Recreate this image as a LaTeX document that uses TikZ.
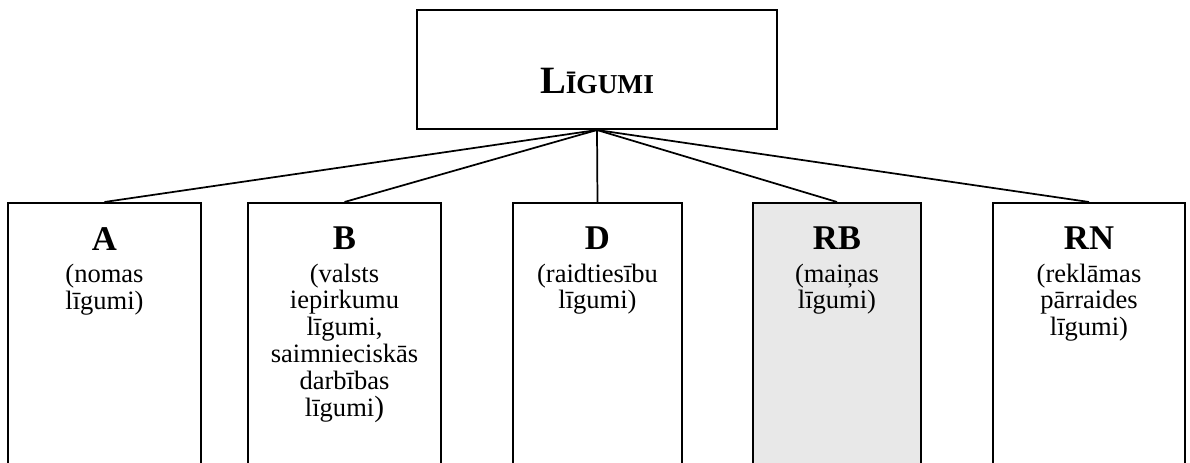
\documentclass[tikz,border=0pt]{standalone}
\usepackage{fontspec}
\setmainfont{Liberation Serif}
\begin{document}
\begin{tikzpicture}[x=0.75pt,y=-0.75pt,
  topbox/.style={draw,line width=1.5pt,minimum width=270pt,minimum height=89.25pt,inner sep=0pt},
  catbox/.style={draw,line width=1.5pt,anchor=north,minimum height=210pt,inner sep=0pt},
  cattext/.style={anchor=north,align=center,inner sep=0pt,font=\fontsize{19.9}{20.1}\selectfont},
  link/.style={line width=1.3pt}]
\useasboundingbox (0,0) rectangle (1190,463);
\clip (0,0) rectangle (1190,463);
\fill[white] (0,0) rectangle (1190,463);
% top
\node[topbox] (top) at (597,69.5) {};
\node[anchor=base,inner sep=0pt] (toptext) at (597,94) {\bfseries\fontsize{29}{29}\selectfont L{\fontsize{20.5}{20}\selectfont ĪGUMI}};
% boxes
\node[catbox,minimum width=144.75pt] (A) at (104.5,202) {};
\node[catbox,minimum width=144.75pt] (B) at (344.5,202) {};
\node[catbox,minimum width=126.75pt] (D) at (597.5,202) {};
\node[catbox,minimum width=126pt,fill=black!9] (RB) at (837,202) {};
\node[catbox,minimum width=144pt] (RN) at (1089,202) {};
% texts
\node[cattext] (Atext) at (104.5,227) {{\bfseries\fontsize{26}{24}\selectfont A}\\[4pt](nomas\\līgumi)};
\node[cattext] (Btext) at (344.5,227) {{\bfseries\fontsize{26}{24}\selectfont B}\\[4pt](valsts\\iepirkumu\\līgumi,\\saimnieciskās\\darbības\\līgumi{\fontsize{22}{20}\selectfont)}};
\node[cattext] (Dtext) at (597.5,227) {{\bfseries\fontsize{26}{24}\selectfont D}\\[4pt](raidtiesību\\līgumi)};
\node[cattext] (RBtext) at (837,227) {{\bfseries\fontsize{26}{24}\selectfont RB}\\[4pt](maiņas\\līgumi)};
\node[cattext] (RNtext) at (1089,227) {{\bfseries\fontsize{26}{24}\selectfont RN}\\[4pt](reklāmas\\pārraides\\līgumi)};
% connectors
\draw[link] (top.south) -- (A.north);
\draw[link] (top.south) -- (B.north);
\draw[link] (top.south) -- (D.north);
\draw[link] (top.south) -- (RB.north);
\draw[link] (top.south) -- (RN.north);
\end{tikzpicture}
\end{document}
